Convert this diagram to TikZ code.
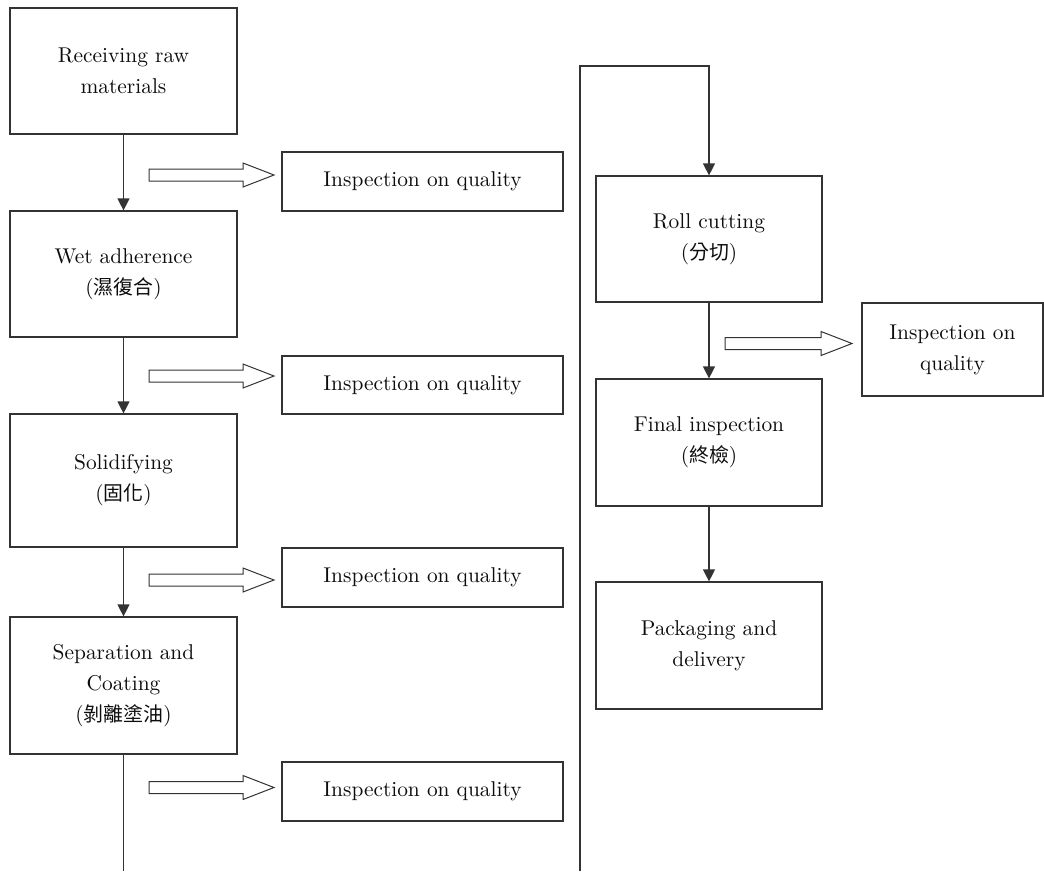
\documentclass[tikz,border=0pt]{standalone}
\usepackage{fontspec}
\setmainfont{lmroman10-regular.otf}
\newfontfamily\cjk[Scale=0.93]{Noto Sans CJK TC}
\usetikzlibrary{arrows.meta,calc}

% outlined block arrow pointing right: start x, tip x, centre y
\newcommand\hollowarrow[3]{%
  \draw[hollow] (#1,#3-6) -- (#2-31,#3-6) -- (#2-31,#3-12) -- (#2,#3)
    -- (#2-31,#3+12) -- (#2-31,#3+6) -- (#1,#3+6) -- cycle;}

\begin{document}
\begin{tikzpicture}[x=1pt,y=-1pt,
  every node/.style={font=\fontsize{21.4}{31}\selectfont, text=black!95},
  box/.style={draw=black!80, line width=1.2pt, rectangle, inner sep=0pt, align=center},
  flow/.style={draw=black!80, line width=1.2pt, -{Triangle[length=12pt,width=12pt]}},
  plain/.style={draw=black!80, line width=1.2pt},
  hollow/.style={draw=black!80, line width=1pt, fill=white, line join=miter}]

\useasboundingbox (0,0) rectangle (1044,871);

% left column of process steps
\node[box, minimum width=227pt, minimum height=126pt] (b1) at (123.5,71)
  {Receiving raw\\materials};
\node[box, minimum width=227pt, minimum height=126pt] (b2) at (123.5,274)
  {Wet adherence\\({\cjk 濕復合})};
\node[box, minimum width=227pt, minimum height=133pt] (b3) at (123.5,480.5)
  {Solidifying\\({\cjk 固化})};
\node[box, minimum width=227pt, minimum height=137pt] (b4) at (123.5,685.5)
  {Separation and\\Coating\\({\cjk 剝離塗油})};

% quality checks beside the left column
\node[box, minimum width=281pt, minimum height=59pt] (q1) at (422.5,181.5) {Inspection on quality};
\node[box, minimum width=281pt, minimum height=58pt] (q2) at (422.5,385) {Inspection on quality};
\node[box, minimum width=281pt, minimum height=59pt] (q3) at (422.5,577.5) {Inspection on quality};
\node[box, minimum width=281pt, minimum height=59pt] (q4) at (422.5,791.5) {Inspection on quality};

% right column of process steps
\node[box, minimum width=226pt, minimum height=126pt] (r1) at (709,239)
  {Roll cutting\\({\cjk 分切})};
\node[box, minimum width=226pt, minimum height=127pt] (r2) at (709,442.5)
  {Final inspection\\({\cjk 終檢})};
\node[box, minimum width=226pt, minimum height=127pt] (r3) at (709,645.5)
  {Packaging and\\delivery};
\node[box, minimum width=181pt, minimum height=93pt] (q5) at (952.5,349.5)
  {Inspection on\\quality};

% flow connectors
\draw[flow] (b1.south) -- (b2.north);
\draw[flow] (b2.south) -- (b3.north);
\draw[flow] (b3.south) -- (b4.north);
\coordinate (lowL) at (b4.south |- 0,871);
\draw[plain] (b4.south) -- (lowL);

\coordinate (lowR) at (580,871);
\coordinate (topR) at (580,66);
\draw[flow] (lowR) -- (topR) -| (r1.north);
\draw[flow] (r1.south) -- (r2.north);
\draw[flow] (r2.south) -- (r3.north);

% block arrows towards the inspections
\hollowarrow{149}{274}{175}
\hollowarrow{149}{274}{376}
\hollowarrow{149}{274}{580}
\hollowarrow{149}{274}{787.5}
\hollowarrow{725}{852}{343.5}

\end{tikzpicture}
\end{document}
